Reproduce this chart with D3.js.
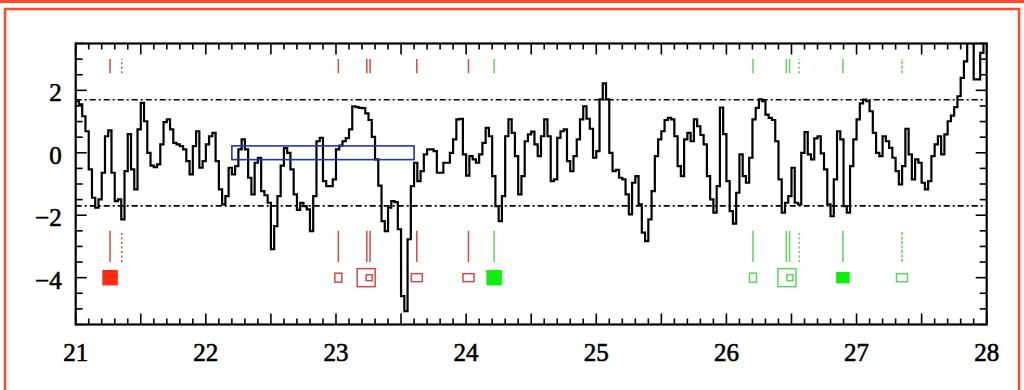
<!DOCTYPE html>
<html>
<head>
<meta charset="utf-8">
<script src="https://cdn.jsdelivr.net/npm/d3@7"></script>
<style>
  html, body { margin: 0; padding: 0; background: #fff; }
  svg { display: block; }
</style>
</head>
<body>
<svg id="chart" width="1024" height="390"></svg>
<script>
// profile values, one per bin, starting at binStart
const binStart = 21
const binWidth = 0.025
const profile = [
  1.65, 1.55, 1.17, 0.69, -0.53, -1.44, -1.76, -1.49, -0.64, 0.53,
  0.72, -0.64, -1.55, -1.49, -2.13, -0.59, 0.6, -0.53, -1.17, 0.75,
  1.6, 1.01, 0, -0.41, -0.46, -0.37, 0.27, 0.98, 1.07, 0.75,
  0.32, 0.27, 0.21, 0.11, -0.27, -0.69, 0.21, 0.69, -0.48, -0.27,
  0.27, 0.53, 0.64, -0.27, -1.17, -1.65, -1.39, -0.48, -0.69, -0.43,
  0.11, 0.43, 0.11, -0.8, -1.33, -0.32, -0.16, -1.23, -1.36, -1.6,
  -3.09, -2.35, -1.39, -0.41, 0.15, 0.0, -0.53, -1.33, -1.83, -1.6,
  -1.71, -1.81, -2.51, -1.39, 0.37, 0.48, -0.91, -1.07, -1.07, -0.85,
  0.11, 0.23, 0.37, 0.47, 0.75, 1.49, 1.46, 1.44, 1.43, 1.26,
  1.05, 0.51, -0.21, -1.05, -2.19, -2.51, -1.76, -1.55, -1.58, -2.45,
  -4.59, -5.07, -2.77, -1.07, -0.32, -0.91, -0.59, -0.05, 0.11, 0.11,
  0.05, -0.64, -0.64, -0.32, -0.32, 0, 0.43, 1.07, 1.09, -0.05,
  -0.73, -0.11, -0.21, -0.32, -0.05, 0.32, 0.8, 0.53, -0.75, -1.71,
  -2.19, -1.39, 0.53, 1.07, 0.64, -0.11, -1.33, -0.75, 0.37, 0.59,
  0.68, 0.27, -0.11, 0.53, 1.07, 0.53, -0.91, -0.85, 0.48, 0.69,
  0.75, -0.27, -0.59, -0.11, 0.43, 1.07, 1.49, 1.09, 0.77, -0.16,
  0.05, 1.71, 2.22, 1.71, 0, -0.59, -0.55, -0.8, -0.85, -1.33,
  -1.97, -0.96, -0.75, -1.65, -2.56, -2.83, -2.13, -1.23, -0.11, 0.43,
  0.69, 1.05, 1.12, 1.07, 0.53, -0.43, -0.75, 0.43, 0.64, 0.37,
  1.07, 0.85, 0.57, 0.27, -0.75, -1.49, -1.92, -1.07, 1.45, 0.6,
  -0.91, -1.87, -2.27, -1.28, -0.05, -0.75, -0.96, -0.16, 1.07, 1.44,
  1.71, 1.65, 1.22, 1.12, 1.05, 0.37, -0.85, -1.92, -1.6, -1.39,
  -0.48, -1.6, -1.65, 0, 0.66, -0.05, -0.21, 0.46, 0.53, -0.02,
  -0.53, -1.65, -2.03, -0.85, 0.69, 0.43, -1.71, -1.92, -0.43, 0.43,
  1.07, 1.58, 1.7, 1.65, 1.33, 0.64, 0, -0.11, 0.53, 0.37,
  0.16, -0.16, -0.59, -1.01, -0.43, 0.77, -0.05, -0.85, -0.21, -0.32,
  -0.96, -1.17, -0.91, -0.11, 0.27, 0.53, -0.05, 0.59, 1.01, 1.19,
  1.46, 1.81, 2.4, 2.93, 3.52, 3.8, 2.35, 2.35, 3.2, 3.6
]

const xDomain = [21, 28]
const yDomain = [-5.5, 3.5]
const xLabels = [21, 22, 23, 24, 25, 26, 27, 28]
const yLabels = [2, 0, -2, -4]
const threshold = 1.7
const windowBox = { x0: 22.2, x1: 23.6, y0: -0.22, y1: 0.22 }

// tick marks above and below the profile
const markX = [21.264, 21.354, 23.018, 23.237, 23.262, 23.621, 24.018,
               24.215, 26.204, 26.46, 26.485, 26.56, 26.895, 27.349]
const markGroup = ["r", "r", "r", "r", "r", "r", "r",
                   "g", "g", "g", "g", "g", "g", "g"]
const markStyle = ["solid", "dot", "solid", "solid", "solid", "solid", "solid",
                   "solid", "solid", "solid", "solid", "dot", "solid", "dash"]
const markTop = [2.55, 3.0]
const markBottom = [-3.5, -2.5]

// boxes drawn on the y = -4 row
const boxX = [21.264, 23.018, 23.232, 23.621, 24.018,
              24.215, 26.204, 26.465, 26.895, 27.349]
const boxGroup = ["r", "r", "r", "r", "r", "g", "g", "g", "g", "g"]
const boxKind = ["fill", "small", "double", "wide", "wide",
                 "fill", "small", "double", "fillsmall", "wide"]
const boxRow = -4

const margin = { left: 75.7, right: 1024 - 986.7, top: 43.5, bottom: 390 - 324.5 }
const width = 1024 - margin.left - margin.right
const height = 390 - margin.top - margin.bottom

const colors = {
  r: { line: "#d84848", fill: "#ff2a14" },
  g: { line: "#5cd65c", fill: "#10ee10" }
}
const dashes = { solid: null, dot: "2,2.5", dash: "3,1.5" }
const boxSizes = {
  fill: [14, 14], small: [7, 9], wide: [11, 8], double: [18, 18], fillsmall: [12, 10]
}

const svg = d3.select("#chart")

/**
 * Draws the page frame in orange.
 */
function drawPageFrame () {
  svg.append("rect")
    .attr("x", 0).attr("y", 0).attr("width", 1024).attr("height", 3)
    .attr("fill", "#ff4a2a")
  svg.append("rect")
    .attr("x", 5).attr("y", 9).attr("width", 1014).attr("height", 400)
    .attr("fill", "none")
    .attr("stroke", "#ff4a2a")
    .attr("stroke-width", 2.5)
}

/**
 * Draws the frame with inward ticks on all four sides and the tick labels.
 * @param {*} g The plot group
 * @param {*} x The x scale
 * @param {*} y The y scale
 */
function drawFrame (g, x, y) {
  const xTicks = d3.range(0, 71).map(i => 21 + i / 10)
  const yTicks = d3.range(0, 19).map(i => -5.5 + i / 2)

  g.append("g")
    .selectAll("line")
    .data(xTicks)
    .enter()
    .append("line")
    .attr("x1", d => x(d)).attr("x2", d => x(d))
    .attr("y1", height)
    .attr("y2", (d, i) => height - (i % 5 === 0 ? 11 : 6))
    .attr("stroke", "black").attr("stroke-width", 1.6)

  g.append("g")
    .selectAll("line")
    .data(xTicks)
    .enter()
    .append("line")
    .attr("x1", d => x(d)).attr("x2", d => x(d))
    .attr("y1", 0)
    .attr("y2", (d, i) => (i % 5 === 0 ? 11 : 6))
    .attr("stroke", "black").attr("stroke-width", 1.6)

  ;[0, width].forEach(side => {
    g.append("g")
      .selectAll("line")
      .data(yTicks)
      .enter()
      .append("line")
      .attr("y1", d => y(d)).attr("y2", d => y(d))
      .attr("x1", side)
      .attr("x2", d => {
        let len = (Math.abs(d % 2) < 1e-9) ? 11 : 7
        return side === 0 ? len : side - len
      })
      .attr("stroke", "black").attr("stroke-width", 1.6)
  })

  g.append("rect")
    .attr("width", width).attr("height", height)
    .attr("fill", "none")
    .attr("stroke", "black")
    .attr("stroke-width", 2.2)

  g.append("g")
    .selectAll("text")
    .data(xLabels)
    .enter()
    .append("text")
    .attr("x", d => x(d))
    .attr("y", height + 36)
    .attr("text-anchor", "middle")
    .style("font-family", "'Liberation Serif', serif")
    .style("font-size", "25px")
    .style("stroke", "black")
    .style("stroke-width", 0.6)
    .text(d => d)

  g.append("g")
    .selectAll("text")
    .data(yLabels)
    .enter()
    .append("text")
    .attr("x", -14)
    .attr("y", d => y(d) + 11)
    .attr("text-anchor", "end")
    .style("font-family", "'Liberation Serif', serif")
    .style("font-size", "25px")
    .style("stroke", "black")
    .style("stroke-width", 0.6)
    .text(d => d < 0 ? "\u2212" + Math.abs(d) : d)
}

/**
 * Draws the stepped profile, the threshold lines and the blue window.
 * @param {*} g The plot group
 * @param {*} x The x scale
 * @param {*} y The y scale
 */
function drawProfile (g, x, y) {
  [threshold, -threshold].forEach(t => {
    g.append("line")
      .attr("x1", 0).attr("x2", width)
      .attr("y1", y(t)).attr("y2", y(t))
      .attr("stroke", "black")
      .attr("stroke-width", 1.6)
      .attr("stroke-dasharray", "6,3,2,3")
  })

  let points = profile.map((v, i) => [binStart + i * binWidth, v])
  points.push([binStart + profile.length * binWidth, profile[profile.length - 1]])

  let line = d3.line()
    .x(d => x(d[0]))
    .y(d => y(d[1]))
    .curve(d3.curveStepAfter)

  g.append("path")
    .attr("d", line(points))
    .attr("clip-path", "url(#plot-clip)")
    .attr("fill", "none")
    .attr("stroke", "black")
    .attr("stroke-width", 2.2)

  g.append("rect")
    .attr("x", x(windowBox.x0))
    .attr("y", y(windowBox.y1))
    .attr("width", x(windowBox.x1) - x(windowBox.x0))
    .attr("height", y(windowBox.y0) - y(windowBox.y1))
    .attr("fill", "none")
    .attr("stroke", "#2233bb")
    .attr("stroke-width", 1.6)
}

/**
 * Draws the coloured tick marks and boxes.
 * @param {*} g The plot group
 * @param {*} x The x scale
 * @param {*} y The y scale
 */
function drawMarks (g, x, y) {
  [markTop, markBottom].forEach(range => {
    g.append("g")
      .selectAll("line")
      .data(markX)
      .enter()
      .append("line")
      .attr("x1", d => x(d)).attr("x2", d => x(d))
      .attr("y1", y(range[0])).attr("y2", y(range[1]))
      .attr("stroke", (d, i) => colors[markGroup[i]].line)
      .attr("stroke-width", 1.5)
      .attr("stroke-dasharray", (d, i) => dashes[markStyle[i]])
  })

  let boxes = g.append("g")
    .selectAll("g")
    .data(boxX)
    .enter()
    .append("g")
    .attr("transform", d => `translate(${x(d)},${y(boxRow)})`)

  boxes.append("rect")
    .attr("x", (d, i) => -boxSizes[boxKind[i]][0] / 2)
    .attr("y", (d, i) => -boxSizes[boxKind[i]][1] / 2)
    .attr("width", (d, i) => boxSizes[boxKind[i]][0])
    .attr("height", (d, i) => boxSizes[boxKind[i]][1])
    .attr("fill", (d, i) => boxKind[i].startsWith("fill") ? colors[boxGroup[i]].fill : "none")
    .attr("stroke", (d, i) => boxKind[i].startsWith("fill") ? colors[boxGroup[i]].fill : colors[boxGroup[i]].line)
    .attr("stroke-width", 1.5)

  boxes.filter((d, i) => boxKind[i] === "double")
    .append("rect")
    .attr("x", 0).attr("y", -3)
    .attr("width", 6).attr("height", 6)
    .attr("fill", "none")
    .attr("stroke", (d, i) => colors[boxGroup[boxX.indexOf(d)]].line)
    .attr("stroke-width", 1.5)
}

const x = d3.scaleLinear().domain(xDomain).range([0, width])
const y = d3.scaleLinear().domain(yDomain).range([height, 0])

drawPageFrame()

svg.append("defs").append("clipPath")
  .attr("id", "plot-clip")
  .append("rect")
  .attr("width", width).attr("height", height)

const g = svg.append("g")
  .attr("transform", `translate(${margin.left},${margin.top})`)

drawProfile(g, x, y)
drawMarks(g, x, y)
drawFrame(g, x, y)
</script>
</body>
</html>
